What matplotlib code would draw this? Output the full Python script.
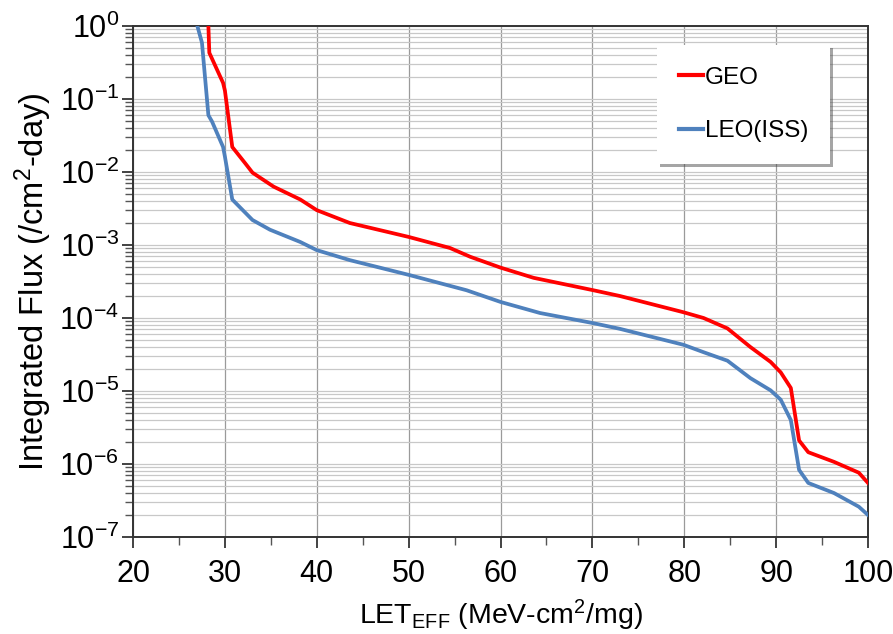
import matplotlib.pyplot as plt
from matplotlib.ticker import MultipleLocator, LogLocator, NullFormatter, FuncFormatter
import numpy as np

plt.rcParams['font.family'] = ['Liberation Sans', 'DejaVu Sans']
plt.rcParams['mathtext.fontset'] = 'custom'
plt.rcParams['mathtext.rm'] = 'Liberation Sans'
plt.rcParams['mathtext.it'] = 'Liberation Sans:italic'
plt.rcParams['mathtext.bf'] = 'Liberation Sans:bold'

# GEO curve (LET, integrated flux)
geo_let = [28.2, 28.3, 29.8, 30.0, 30.8, 32.2, 33.0, 35.3, 38.2, 40.0, 43.6, 50.0, 54.5,
           56.7, 60.0, 63.6, 70.1, 73.0, 79.9, 82.1, 84.7, 87.2, 89.4, 90.5,
           91.6, 92.5, 93.5, 96.3, 99.0, 100.0]
geo_flux = [1.0, 0.43, 0.166, 0.13, 0.022, 0.0132, 0.0098, 0.0063, 0.0042, 0.003, 0.002,
            0.00129, 9.1e-4, 6.9e-4, 4.9e-4, 3.55e-4, 2.4e-4, 2.0e-4, 1.2e-4,
            1.0e-4, 7.2e-5, 4.0e-5, 2.5e-5, 1.8e-5, 1.1e-5, 2.1e-6, 1.45e-6, 1.07e-6,
            7.6e-7, 5.5e-7]

# LEO (ISS) curve
leo_let = [27.0, 27.5, 28.2, 28.6, 29.8, 30.0, 30.8, 33.0, 34.9, 38.2, 40.0, 43.6, 50.0,
           56.3, 60.0, 64.3, 70.1, 73.0, 79.9, 82.1, 84.7, 87.2, 89.4, 90.5, 91.6, 92.5,
           93.5, 96.3, 99.0, 100.0]
leo_flux = [1.0, 0.59, 0.06, 0.049, 0.022, 0.0162, 0.0042, 0.0022, 0.00162, 0.0011,
            8.5e-4, 6.2e-4, 3.9e-4, 2.4e-4, 1.66e-4, 1.17e-4, 8.5e-5, 7.1e-5, 4.3e-5,
            3.4e-5, 2.6e-5, 1.5e-5, 1.02e-5, 7.6e-6, 4.0e-6, 8.3e-7, 5.5e-7, 4.0e-7,
            2.6e-7, 2.0e-7]


def decade_label(v, pos):
    e = int(round(np.log10(v)))
    return r'10$^{\mathregular{%d}}$' % e


fig = plt.figure(figsize=(8.93, 6.34), dpi=100)
ax = fig.add_axes([0.149, 0.153, 0.823, 0.806])

ax.plot(geo_let, geo_flux, color='#FF0000', lw=2.7, label='GEO', zorder=3)
ax.plot(leo_let, leo_flux, color='#4F81BD', lw=2.7, label='LEO(ISS)', zorder=3)

ax.set_yscale('log')
ax.set_xlim(20, 100)
ax.set_ylim(1e-7, 1)
ax.xaxis.set_major_locator(MultipleLocator(10))
ax.xaxis.set_minor_locator(MultipleLocator(5))
ax.yaxis.set_major_locator(LogLocator(base=10, numticks=10))
ax.yaxis.set_major_formatter(FuncFormatter(decade_label))
ax.yaxis.set_minor_locator(LogLocator(base=10, subs=range(2, 10), numticks=20))
ax.yaxis.set_minor_formatter(NullFormatter())

ax.grid(True, which='major', axis='x', color='#9a9a9a', lw=0.9)
ax.grid(True, which='major', axis='y', color='#c8c8c8', lw=0.9)
ax.grid(True, which='minor', axis='y', color='#c8c8c8', lw=0.9)
ax.set_axisbelow(True)

ax.tick_params(which='major', direction='out', length=8, width=1.2, labelsize=22,
               colors='#222222', labelcolor='black')
ax.tick_params(which='minor', direction='out', length=6, width=1.0, colors='#555555')
ax.tick_params(axis='x', pad=8)
ax.tick_params(axis='y', pad=2)
for s in ax.spines.values():
    s.set_color('#333333')
    s.set_linewidth(1.4)

ax.set_xlabel(r'LET$_{\mathrm{EFF}}$ (MeV-cm$^{2}$/mg)', fontsize=20.5, labelpad=6)
ax.set_ylabel(r'Integrated Flux (/cm$^{2}$-day)', fontsize=23.5, labelpad=4)

leg = ax.legend(loc='upper right', bbox_to_anchor=(0.948, 0.963), fontsize=17.5,
                frameon=True, fancybox=False, shadow=True, labelspacing=1.3,
                handlelength=1.0, handletextpad=0.05, borderpad=0.9, borderaxespad=0)
leg.get_frame().set_edgecolor('white')
leg.get_frame().set_linewidth(0)
for line in leg.get_lines():
    line.set_linewidth(3)

fig.savefig('out.png', dpi=100)
